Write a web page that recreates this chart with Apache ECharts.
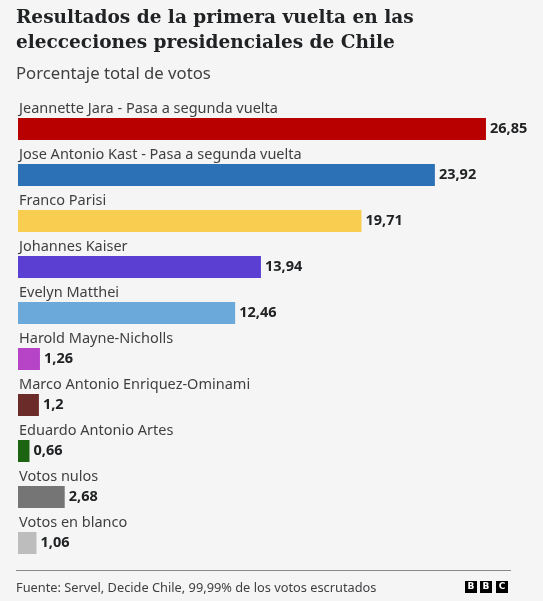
<!DOCTYPE html>
<html>
<head>
<meta charset="utf-8">
<script src="https://cdn.jsdelivr.net/npm/echarts@6/dist/echarts.min.js"></script>
<style>
html,body{margin:0;padding:0;background:#f5f5f5;}
#c{width:543px;height:601px;}
</style>
</head>
<body>
<div id="c"></div>
<script>
var categories = [
  'Jeannette Jara - Pasa a segunda vuelta',
  'Jose Antonio Kast - Pasa a segunda vuelta',
  'Franco Parisi',
  'Johannes Kaiser',
  'Evelyn Matthei',
  'Harold Mayne-Nicholls',
  'Marco Antonio Enriquez-Ominami',
  'Eduardo Antonio Artes',
  'Votos nulos',
  'Votos en blanco'
];
var values = [26.85, 23.92, 19.71, 13.94, 12.46, 1.26, 1.2, 0.66, 2.68, 1.06];
var colors = ['#b80000', '#2c71b5', '#f9cd50', '#5b3fd3', '#6aa9d9', '#b744c7', '#6b2c29', '#1d6412', '#757575', '#bdbdbd'];

var chart = echarts.init(document.getElementById('c'));
var sans = '"Noto Sans", sans-serif';
chart.setOption({
  backgroundColor: '#f5f5f5',
  animation: false,
  title: [
    {
      text: 'Resultados de la primera vuelta en las\nelecceciones presidenciales de Chile',
      left: 16, top: 6, padding: 0,
      textStyle: { fontFamily: '"DejaVu Serif", serif', fontWeight: 'bold', fontSize: 18.5, lineHeight: 25, color: '#202224' }
    },
    {
      text: 'Porcentaje total de votos',
      left: 16, top: 66, padding: 0,
      textStyle: { fontFamily: sans, fontWeight: 'normal', fontSize: 16.7, color: '#3f3f42' }
    },
    {
      text: 'Fuente: Servel, Decide Chile, 99,99% de los votos escrutados',
      left: 16, top: 582, padding: 0,
      textStyle: { fontFamily: sans, fontWeight: 'normal', fontSize: 12.8, color: '#3f3f42' }
    }
  ],
  graphic: [
    { type: 'line', shape: { x1: 16, y1: 570.5, x2: 511, y2: 570.5 }, style: { stroke: '#8a8a8a', lineWidth: 1 } },
    { type: 'rect', shape: { x: 465, y: 581, width: 12, height: 12 }, style: { fill: '#000' } },
    { type: 'rect', shape: { x: 480, y: 581, width: 12, height: 12 }, style: { fill: '#000' } },
    { type: 'rect', shape: { x: 496, y: 581, width: 12, height: 12 }, style: { fill: '#000' } },
    { type: 'text', x: 471, y: 587, style: { text: 'B', fill: '#fff', font: 'bold 9px "DejaVu Sans"', align: 'center', verticalAlign: 'middle' } },
    { type: 'text', x: 486, y: 587, style: { text: 'B', fill: '#fff', font: 'bold 9px "DejaVu Sans"', align: 'center', verticalAlign: 'middle' } },
    { type: 'text', x: 502, y: 587, style: { text: 'C', fill: '#fff', font: 'bold 9px "DejaVu Sans"', align: 'center', verticalAlign: 'middle' } }
  ],
  grid: { left: 18, top: 106, bottom: 35, width: 488, containLabel: false },
  xAxis: { type: 'value', min: 0, max: 28, show: false },
  yAxis: {
    type: 'category', data: categories, inverse: true,
    axisLine: { show: false }, axisTick: { show: false }, splitLine: { show: false },
    axisLabel: {
      inside: true, margin: 1, align: 'left', verticalAlign: 'bottom',
      padding: [0, 0, 13, 0],
      fontFamily: sans, fontSize: 14.5, color: '#3f3f42'
    },
    z: 10
  },
  series: [{
    type: 'bar',
    data: values.map(function (v, i) { return { value: v, itemStyle: { color: colors[i] } }; }),
    barWidth: 22,
    label: {
      show: true, position: 'right', distance: 4,
      fontFamily: sans, fontWeight: 'bold', fontSize: 14.5, color: '#202224',
      formatter: function (p) { return String(p.value).replace('.', ','); }
    }
  }]
});
</script>
</body>
</html>
